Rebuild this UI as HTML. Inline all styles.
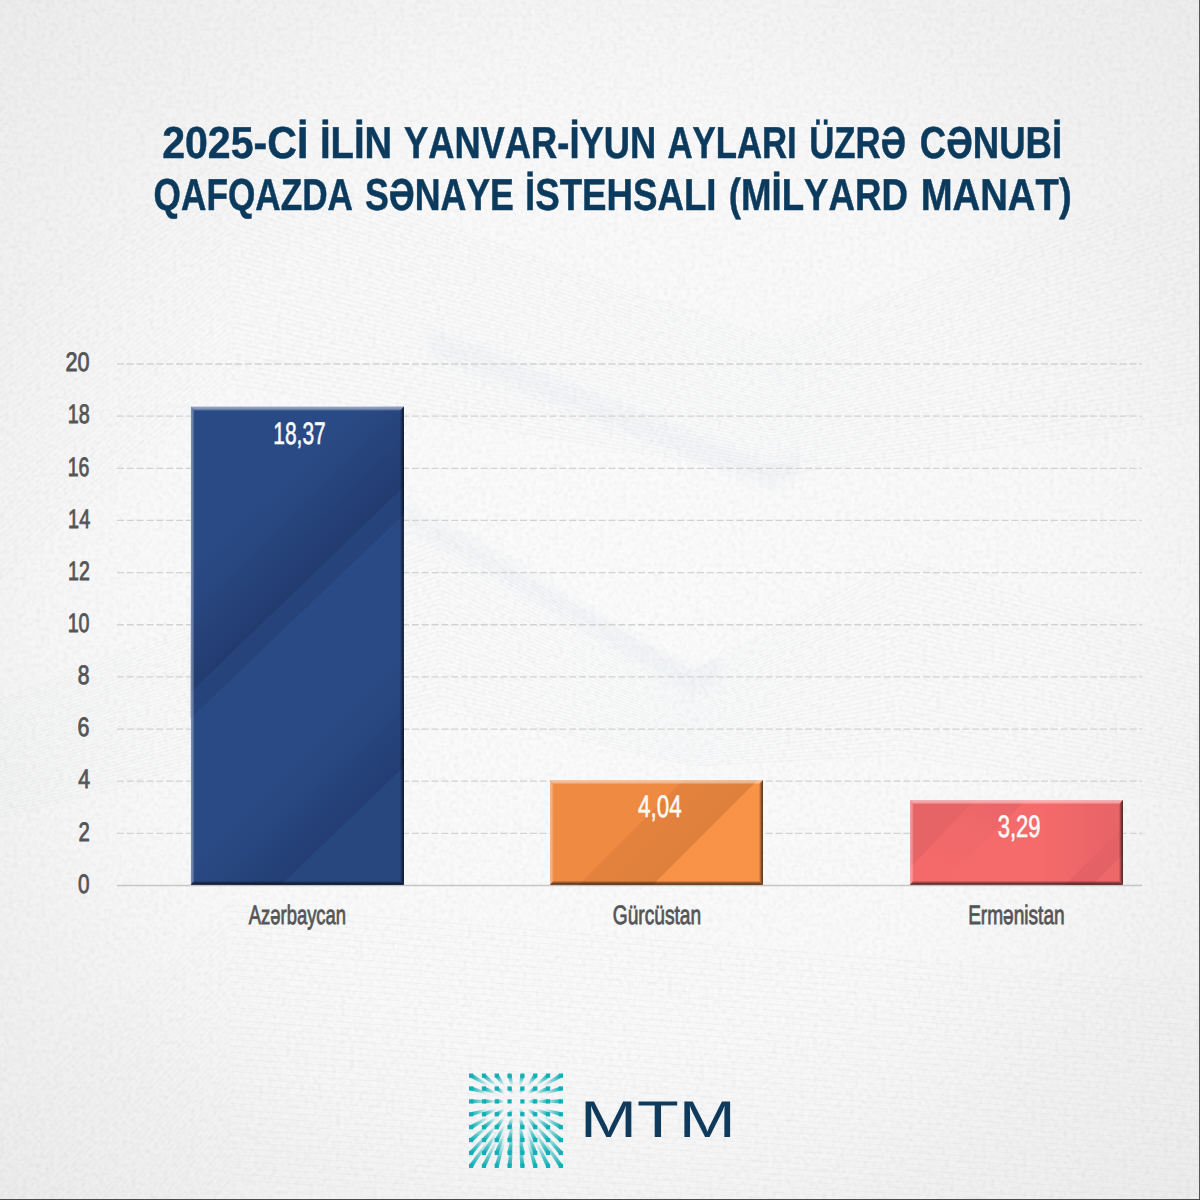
<!DOCTYPE html>
<html lang="az"><head><meta charset="utf-8"><title>Cənubi Qafqazda sənaye istehsalı</title>
<style>
html,body{margin:0;padding:0;background:#f2f2f2;}
body{width:1200px;height:1200px;overflow:hidden;}
svg{display:block;}
text{font-family:"Liberation Sans",sans-serif;text-rendering:geometricPrecision;font-kerning:none;}
.ttl{font-weight:700;font-size:44.8px;fill:#0c3a5d;stroke:#0c3a5d;stroke-width:0.5px;}
.ax{font-size:26.7px;fill:#555555;stroke:#555555;stroke-width:0.85px;}
.cat{font-size:26.6px;fill:#555555;stroke:#555555;stroke-width:0.8px;}
.val{font-size:31px;fill:#fbfbfb;stroke:#fbfbfb;stroke-width:0.6px;}
.mtm{font-size:51.6px;fill:#0f3a5c;}
</style></head><body>
<svg width="1200" height="1200" viewBox="0 0 1200 1200">
<defs>
<radialGradient id="bg" cx="50%" cy="50%" r="75%">
<stop offset="0" stop-color="#fbfbfb"/><stop offset="0.5" stop-color="#f9f9f9"/><stop offset="0.62" stop-color="#f6f6f6"/><stop offset="0.72" stop-color="#f2f2f2"/><stop offset="0.95" stop-color="#ececec"/>
</radialGradient>
<filter id="soft" x="-5%" y="-20%" width="110%" height="140%"><feGaussianBlur stdDeviation="3.5"/></filter>
<filter id="paper" x="0" y="0" width="100%" height="100%">
<feTurbulence type="fractalNoise" baseFrequency="0.22" numOctaves="2" seed="7" result="n"/>
<feColorMatrix in="n" type="matrix" values="0 0 0 0 0  0 0 0 0 0  0 0 0 0 0  0.25 0.25 0 0 -0.2"/>
</filter>
<linearGradient id="tail" x1="0" y1="0" x2="1" y2="0">
<stop offset="0" stop-color="#12b0b6" stop-opacity="1"/><stop offset="0.28" stop-color="#12b0b6" stop-opacity="0.72"/><stop offset="0.8" stop-color="#12b0b6" stop-opacity="0.1"/><stop offset="1" stop-color="#12b0b6" stop-opacity="0"/>
</linearGradient>
<linearGradient id="gT" x1="0" y1="0" x2="0" y2="1"><stop offset="0" stop-color="#fff" stop-opacity="0.52"/><stop offset="0.55" stop-color="#fff" stop-opacity="0.4"/><stop offset="1" stop-color="#fff" stop-opacity="0"/></linearGradient>
<linearGradient id="gL" x1="0" y1="0" x2="1" y2="0"><stop offset="0" stop-color="#fff" stop-opacity="0.38"/><stop offset="0.55" stop-color="#fff" stop-opacity="0.28"/><stop offset="1" stop-color="#fff" stop-opacity="0"/></linearGradient>
<linearGradient id="gR" x1="1" y1="0" x2="0" y2="0"><stop offset="0" stop-color="#000" stop-opacity="0.72"/><stop offset="0.45" stop-color="#000" stop-opacity="0.4"/><stop offset="1" stop-color="#000" stop-opacity="0"/></linearGradient>
<linearGradient id="gB" x1="0" y1="1" x2="0" y2="0"><stop offset="0" stop-color="#000" stop-opacity="0.78"/><stop offset="0.45" stop-color="#000" stop-opacity="0.42"/><stop offset="1" stop-color="#000" stop-opacity="0"/></linearGradient>
<clipPath id="c1"><rect x="190.8" y="406.5" width="213.1" height="478.3"/></clipPath>
<clipPath id="c2"><rect x="550" y="780" width="212.9" height="104.8"/></clipPath>
<clipPath id="c3"><rect x="910" y="800" width="212.9" height="84.8"/></clipPath>
</defs>
<rect width="1200" height="1200" fill="url(#bg)"/>
<g id="waves" fill="none" stroke="#cfd8e1" stroke-width="0.55" opacity="0.36">
<path d="M0 300.0L230 150.0L773 340.0L1200 170.0"/>
<path d="M0 306.2L230 155.2L773 343.0L1200 175.6"/>
<path d="M0 312.4L230 160.4L773 346.0L1200 181.2"/>
<path d="M0 318.6L230 165.6L773 349.0L1200 186.8"/>
<path d="M0 324.8L230 170.8L773 352.0L1200 192.4"/>
<path d="M0 331.0L230 176.0L773 355.0L1200 198.0"/>
<path d="M0 337.2L230 181.2L773 358.0L1200 203.6"/>
<path d="M0 343.4L230 186.4L773 361.0L1200 209.2"/>
<path d="M0 349.6L230 191.6L773 364.0L1200 214.8"/>
<path d="M0 355.8L230 196.8L773 367.0L1200 220.4"/>
<path d="M0 362.0L230 202.0L773 370.0L1200 226.0"/>
<path d="M0 368.2L230 207.2L773 373.0L1200 231.6"/>
<path d="M0 374.4L230 212.4L773 376.0L1200 237.2"/>
<path d="M0 380.6L230 217.6L773 379.0L1200 242.8"/>
<path d="M0 386.8L230 222.8L773 382.0L1200 248.4"/>
<path d="M0 393.0L230 228.0L773 385.0L1200 254.0"/>
<path d="M0 399.2L230 233.2L773 388.0L1200 259.6"/>
<path d="M0 405.4L230 238.4L773 391.0L1200 265.2"/>
<path d="M0 411.6L230 243.6L773 394.0L1200 270.8"/>
<path d="M0 417.8L230 248.8L773 397.0L1200 276.4"/>
<path d="M0 424.0L230 254.0L773 400.0L1200 282.0"/>
<path d="M0 430.2L230 259.2L773 403.0L1200 287.6"/>
<path d="M0 436.4L230 264.4L773 406.0L1200 293.2"/>
<path d="M0 442.6L230 269.6L773 409.0L1200 298.8"/>
<path d="M0 448.8L230 274.8L773 412.0L1200 304.4"/>
<path d="M0 455.0L230 280.0L773 415.0L1200 310.0"/>
<path d="M0 461.2L230 285.2L773 418.0L1200 315.6"/>
<path d="M0 467.4L230 290.4L773 421.0L1200 321.2"/>
<path d="M0 473.6L230 295.6L773 424.0L1200 326.8"/>
<path d="M0 479.8L230 300.8L773 427.0L1200 332.4"/>
<path d="M0 486.0L230 306.0L773 430.0L1200 338.0"/>
<path d="M0 492.2L230 311.2L773 433.0L1200 343.6"/>
<path d="M0 498.4L230 316.4L773 436.0L1200 349.2"/>
<path d="M0 504.6L230 321.6L773 439.0L1200 354.8"/>
<path d="M0 510.8L230 326.8L773 442.0L1200 360.4"/>
<path d="M0 517.0L230 332.0L773 445.0L1200 366.0"/>
<path d="M0 523.2L230 337.2L773 448.0L1200 371.6"/>
<path d="M0 529.4L230 342.4L773 451.0L1200 377.2"/>
<path d="M0 535.6L230 347.6L773 454.0L1200 382.8"/>
<path d="M0 541.8L230 352.8L773 457.0L1200 388.4"/>
<path d="M0 548.0L230 358.0L773 460.0L1200 394.0"/>
<path d="M0 554.2L230 363.2L773 463.0L1200 399.6"/>
<path d="M0 560.4L230 368.4L773 466.0L1200 405.2"/>
<path d="M0 566.6L230 373.6L773 469.0L1200 410.8"/>
<path d="M0 572.8L230 378.8L773 472.0L1200 416.4"/>
<path d="M0 579.0L230 384.0L773 475.0L1200 422.0"/>
<path d="M0 700.0L440 530.0L693 672.0L900 560.0L1200 640.0"/>
<path d="M0 703.0L440 534.6L693 674.4L900 565.0L1200 644.2"/>
<path d="M0 706.0L440 539.2L693 676.8L900 570.0L1200 648.4"/>
<path d="M0 709.0L440 543.8L693 679.2L900 575.0L1200 652.6"/>
<path d="M0 712.0L440 548.4L693 681.6L900 580.0L1200 656.8"/>
<path d="M0 715.0L440 553.0L693 684.0L900 585.0L1200 661.0"/>
<path d="M0 718.0L440 557.6L693 686.4L900 590.0L1200 665.2"/>
<path d="M0 721.0L440 562.2L693 688.8L900 595.0L1200 669.4"/>
<path d="M0 724.0L440 566.8L693 691.2L900 600.0L1200 673.6"/>
<path d="M0 727.0L440 571.4L693 693.6L900 605.0L1200 677.8"/>
<path d="M0 730.0L440 576.0L693 696.0L900 610.0L1200 682.0"/>
<path d="M0 733.0L440 580.6L693 698.4L900 615.0L1200 686.2"/>
<path d="M0 736.0L440 585.2L693 700.8L900 620.0L1200 690.4"/>
<path d="M0 739.0L440 589.8L693 703.2L900 625.0L1200 694.6"/>
<path d="M0 742.0L440 594.4L693 705.6L900 630.0L1200 698.8"/>
<path d="M0 745.0L440 599.0L693 708.0L900 635.0L1200 703.0"/>
<path d="M0 748.0L440 603.6L693 710.4L900 640.0L1200 707.2"/>
<path d="M0 751.0L440 608.2L693 712.8L900 645.0L1200 711.4"/>
<path d="M0 754.0L440 612.8L693 715.2L900 650.0L1200 715.6"/>
<path d="M0 757.0L440 617.4L693 717.6L900 655.0L1200 719.8"/>
<path d="M0 760.0L440 622.0L693 720.0L900 660.0L1200 724.0"/>
<path d="M0 763.0L440 626.6L693 722.4L900 665.0L1200 728.2"/>
<path d="M0 766.0L440 631.2L693 724.8L900 670.0L1200 732.4"/>
<path d="M0 769.0L440 635.8L693 727.2L900 675.0L1200 736.6"/>
<path d="M0 772.0L440 640.4L693 729.6L900 680.0L1200 740.8"/>
<path d="M0 775.0L440 645.0L693 732.0L900 685.0L1200 745.0"/>
<path d="M0 778.0L440 649.6L693 734.4L900 690.0L1200 749.2"/>
<path d="M0 781.0L440 654.2L693 736.8L900 695.0L1200 753.4"/>
<path d="M0 784.0L440 658.8L693 739.2L900 700.0L1200 757.6"/>
<path d="M0 787.0L440 663.4L693 741.6L900 705.0L1200 761.8"/>
<path d="M0 790.0L440 668.0L693 744.0L900 710.0L1200 766.0"/>
<path d="M0 793.0L440 672.6L693 746.4L900 715.0L1200 770.2"/>
<path d="M0 796.0L440 677.2L693 748.8L900 720.0L1200 774.4"/>
<path d="M0 799.0L440 681.8L693 751.2L900 725.0L1200 778.6"/>
<path d="M0 802.0L440 686.4L693 753.6L900 730.0L1200 782.8"/>
<path d="M0 805.0L440 691.0L693 756.0L900 735.0L1200 787.0"/>
<path d="M0 808.0L440 695.6L693 758.4L900 740.0L1200 791.2"/>
<path d="M0 811.0L440 700.2L693 760.8L900 745.0L1200 795.4"/>
<path d="M0 814.0L440 704.8L693 763.2L900 750.0L1200 799.6"/>
<path d="M0 817.0L440 709.4L693 765.6L900 755.0L1200 803.8"/>
<path d="M0 1120.0L230 905.0L1200 985.0"/>
<path d="M0 1127.5L230 911.4L1200 990.8"/>
<path d="M0 1135.0L230 917.8L1200 996.6"/>
<path d="M0 1142.5L230 924.2L1200 1002.4"/>
<path d="M0 1150.0L230 930.6L1200 1008.2"/>
<path d="M0 1157.5L230 937.0L1200 1014.0"/>
<path d="M0 1165.0L230 943.4L1200 1019.8"/>
<path d="M0 1172.5L230 949.8L1200 1025.6"/>
<path d="M0 1180.0L230 956.2L1200 1031.4"/>
<path d="M0 1187.5L230 962.6L1200 1037.2"/>
<path d="M0 1195.0L230 969.0L1200 1043.0"/>
<path d="M0 1202.5L230 975.4L1200 1048.8"/>
<path d="M0 1210.0L230 981.8L1200 1054.6"/>
<path d="M0 1217.5L230 988.2L1200 1060.4"/>
<path d="M0 1225.0L230 994.6L1200 1066.2"/>
<path d="M0 1232.5L230 1001.0L1200 1072.0"/>
<path d="M0 1240.0L230 1007.4L1200 1077.8"/>
<path d="M0 1247.5L230 1013.8L1200 1083.6"/>
<path d="M0 1255.0L230 1020.2L1200 1089.4"/>
<path d="M0 1262.5L230 1026.6L1200 1095.2"/>
<path d="M0 1270.0L230 1033.0L1200 1101.0"/>
<path d="M0 1277.5L230 1039.4L1200 1106.8"/>
<path d="M0 1285.0L230 1045.8L1200 1112.6"/>
<path d="M0 1292.5L230 1052.2L1200 1118.4"/>
<path d="M0 1300.0L230 1058.6L1200 1124.2"/>
<path d="M0 1307.5L230 1065.0L1200 1130.0"/>
<path d="M0 1315.0L230 1071.4L1200 1135.8"/>
<path d="M0 1322.5L230 1077.8L1200 1141.6"/>
<path d="M0 1330.0L230 1084.2L1200 1147.4"/>
<path d="M0 1337.5L230 1090.6L1200 1153.2"/>
<path d="M0 1345.0L230 1097.0L1200 1159.0"/>
<path d="M0 1352.5L230 1103.4L1200 1164.8"/>
<path d="M0 1360.0L230 1109.8L1200 1170.6"/>
<path d="M0 1367.5L230 1116.2L1200 1176.4"/>
<path d="M0 1375.0L230 1122.6L1200 1182.2"/>
<path d="M0 1382.5L230 1129.0L1200 1188.0"/>
<path d="M0 1390.0L230 1135.4L1200 1193.8"/>
<path d="M0 1397.5L230 1141.8L1200 1199.6"/>
<path d="M0 1405.0L230 1148.2L1200 1205.4"/>
<path d="M0 1412.5L230 1154.6L1200 1211.2"/>
<path d="M0 1420.0L230 1161.0L1200 1217.0"/>
<path d="M0 1427.5L230 1167.4L1200 1222.8"/>
<path d="M0 1435.0L230 1173.8L1200 1228.6"/>
<path d="M0 1442.5L230 1180.2L1200 1234.4"/>
</g>
<g fill="#d3deea" opacity="0.14" filter="url(#soft)"><path d="M430 328L487 350L773 465L800 452L800 478L773 491L487 378L430 356Z"/><path d="M400 500L467 533L693 668L720 658L720 684L693 695L467 562L400 528Z"/></g>
<rect width="1200" height="1200" filter="url(#paper)" opacity="0.2"/>
<g stroke="#d2d2d2" stroke-width="1.3" stroke-dasharray="7 2.83" fill="none">
<path d="M117 833.35H1142"/>
<path d="M117 781.20H1142"/>
<path d="M117 729.05H1142"/>
<path d="M117 676.90H1142"/>
<path d="M117 624.75H1142"/>
<path d="M117 572.60H1142"/>
<path d="M117 520.45H1142"/>
<path d="M117 468.30H1142"/>
<path d="M117 416.15H1142"/>
<path d="M117 364.00H1142"/>
</g>
<path d="M117 885.50H1142" stroke="#c6c6c6" stroke-width="1.3" fill="none"/>
<g class="ax">
<text x="77.89" y="892.7" textLength="11.52" lengthAdjust="spacingAndGlyphs">0</text>
<text x="78.38" y="840.6" textLength="11.23" lengthAdjust="spacingAndGlyphs">2</text>
<text x="78.21" y="788.4" textLength="11.81" lengthAdjust="spacingAndGlyphs">4</text>
<text x="77.61" y="736.2" textLength="11.93" lengthAdjust="spacingAndGlyphs">6</text>
<text x="77.78" y="684.1" textLength="11.73" lengthAdjust="spacingAndGlyphs">8</text>
<text x="67.70" y="632.0" textLength="21.87" lengthAdjust="spacingAndGlyphs">10</text>
<text x="68.12" y="579.8" textLength="21.66" lengthAdjust="spacingAndGlyphs">12</text>
<text x="68.09" y="527.7" textLength="22.10" lengthAdjust="spacingAndGlyphs">14</text>
<text x="67.72" y="475.5" textLength="21.64" lengthAdjust="spacingAndGlyphs">16</text>
<text x="67.70" y="423.4" textLength="21.96" lengthAdjust="spacingAndGlyphs">18</text>
<text x="65.61" y="371.2" textLength="24.03" lengthAdjust="spacingAndGlyphs">20</text>
</g>
<g clip-path="url(#c1)">
<rect x="190.8" y="406.5" width="213.1" height="478.3" fill="#2a4a85"/>
<linearGradient id="b1a" gradientUnits="userSpaceOnUse" x1="300" y1="587" x2="240" y2="525"><stop offset="0" stop-color="#223c70"/><stop offset="1" stop-color="#223c70" stop-opacity="0"/></linearGradient>
<path d="M190.0 693.3L404.0 486.6L404.0 380.0L190.0 540.0Z" fill="url(#b1a)"/>
<path d="M190.0 693.3L404.0 486.6L404.0 514.0L190.0 718.8Z" fill="#26437b"/>
<linearGradient id="b1b" gradientUnits="userSpaceOnUse" x1="345" y1="824" x2="290" y2="768"><stop offset="0" stop-color="#233e74"/><stop offset="1" stop-color="#233e74" stop-opacity="0"/></linearGradient>
<path d="M280.0 886.0L404.0 766.8L404.0 640.0L190.0 850.0L190.0 886.0Z" fill="url(#b1b)"/>
<path d="M280.0 886.0L404.0 766.8L404.0 886.0Z" fill="#28477f"/>
</g>
<path d="M190.8 406.5H403.9L399.9 411.0H194.60000000000002Z" fill="url(#gT)"/>
<path d="M190.8 406.5L194.60000000000002 411.0V880.5999999999999L190.8 884.8Z" fill="url(#gL)"/>
<path d="M403.9 406.5L399.9 411.0V880.5999999999999L403.9 884.8Z" fill="url(#gR)"/>
<path d="M190.8 884.8L194.60000000000002 880.5999999999999H399.9L403.9 884.8Z" fill="url(#gB)"/>
<g clip-path="url(#c2)">
<rect x="550.0" y="780.0" width="212.9" height="104.8" fill="#ee8a42"/>
<linearGradient id="b2a" gradientUnits="userSpaceOnUse" x1="700" y1="835" x2="640" y2="775"><stop offset="0" stop-color="#df803c"/><stop offset="1" stop-color="#e6843f"/></linearGradient>
<path d="M578.5 885.0L683.5 780.0L758.0 780.0L653.0 885.0Z" fill="url(#b2a)"/>
<path d="M653.0 885.0L758.0 780.0L764.0 780.0L764.0 885.0Z" fill="#f99348"/>
</g>
<path d="M550.0 780.0H762.9L758.9 784.5H553.8Z" fill="url(#gT)"/>
<path d="M550.0 780.0L553.8 784.5V880.5999999999999L550.0 884.8Z" fill="url(#gL)"/>
<path d="M762.9 780.0L758.9 784.5V880.5999999999999L762.9 884.8Z" fill="url(#gR)"/>
<path d="M550.0 884.8L553.8 880.5999999999999H758.9L762.9 884.8Z" fill="url(#gB)"/>
<g clip-path="url(#c3)">
<rect x="910.0" y="800.0" width="212.9" height="84.8" fill="#f56a6b"/>
<path d="M910.0 799.0L975.5 799.0L910.0 868.0Z" fill="#e66366"/>
<linearGradient id="b3a" gradientUnits="userSpaceOnUse" x1="1000" y1="800" x2="960" y2="880"><stop offset="0" stop-color="#e96568"/><stop offset="1" stop-color="#f26a6b" stop-opacity="0.2"/></linearGradient>
<path d="M975.5 799.0L1027.0 799.0L940.0 886.0L910.0 886.0L910.0 868.0Z" fill="url(#b3a)"/>
<linearGradient id="b3b" gradientUnits="userSpaceOnUse" x1="1040" y1="840" x2="1110" y2="840"><stop offset="0" stop-color="#e86467" stop-opacity="0"/><stop offset="1" stop-color="#e86467"/></linearGradient>
<path d="M1030.0 799.0L1124.0 799.0L1124.0 826.0L1064.0 886.0L1000.0 886.0Z" fill="url(#b3b)"/>
<path d="M1124.0 826.0L1064.0 886.0L1092.0 886.0L1124.0 853.0Z" fill="#e46165"/>
<path d="M1124.0 853.0L1092.0 886.0L1124.0 886.0Z" fill="#ee686a"/>
</g>
<path d="M910.0 800.0H1122.9L1118.9 804.5H913.8Z" fill="url(#gT)"/>
<path d="M910.0 800.0L913.8 804.5V880.5999999999999L910.0 884.8Z" fill="url(#gL)"/>
<path d="M1122.9 800.0L1118.9 804.5V880.5999999999999L1122.9 884.8Z" fill="url(#gR)"/>
<path d="M910.0 884.8L913.8 880.5999999999999H1118.9L1122.9 884.8Z" fill="url(#gB)"/>
<g class="val">
<text x="273.30" y="444.2" textLength="52.45" lengthAdjust="spacingAndGlyphs">18,37</text>
<text x="638.09" y="817.2" textLength="43.57" lengthAdjust="spacingAndGlyphs">4,04</text>
<text x="997.66" y="837.4" textLength="42.88" lengthAdjust="spacingAndGlyphs">3,29</text>
</g>
<g class="cat">
<text x="248.76" y="924.0" textLength="97.33" lengthAdjust="spacingAndGlyphs">Azərbaycan</text>
<text x="612.74" y="924.0" textLength="88.41" lengthAdjust="spacingAndGlyphs">Gürcüstan</text>
<text x="968.13" y="924.0" textLength="96.50" lengthAdjust="spacingAndGlyphs">Ermənistan</text>
</g>
<g class="ttl" opacity="0.999">
<text y="158.0"><tspan x="162.13" textLength="146.17" lengthAdjust="spacingAndGlyphs">2025-Cİ</tspan> <tspan x="319.99" textLength="72.24" lengthAdjust="spacingAndGlyphs">İLİN</tspan> <tspan x="403.93" textLength="252.27" lengthAdjust="spacingAndGlyphs">YANVAR-İYUN</tspan> <tspan x="667.38" textLength="129.39" lengthAdjust="spacingAndGlyphs">AYLARI</tspan> <tspan x="809.16" textLength="96.82" lengthAdjust="spacingAndGlyphs">ÜZRƏ</tspan> <tspan x="919.75" textLength="142.45" lengthAdjust="spacingAndGlyphs">CƏNUBİ</tspan></text>
<text y="210.0"><tspan x="153.61" textLength="199.37" lengthAdjust="spacingAndGlyphs">QAFQAZDA</tspan> <tspan x="364.92" textLength="149.02" lengthAdjust="spacingAndGlyphs">SƏNAYE</tspan> <tspan x="525.00" textLength="191.51" lengthAdjust="spacingAndGlyphs">İSTEHSALI</tspan> <tspan x="728.72" textLength="179.27" lengthAdjust="spacingAndGlyphs">(MİLYARD</tspan> <tspan x="920.69" textLength="150.97" lengthAdjust="spacingAndGlyphs">MANAT)</tspan></text>
</g>
<g id="logo">
<path transform="translate(471.10 1075.60) rotate(29.9) scale(21.75 1)" d="M0 -2.15L1 -0.95L1 0.95L0 2.15Z" fill="url(#tail)"/>
<rect x="469.00" y="1073.50" width="4.2" height="4.2" fill="#12b0b6"/>
<path transform="translate(483.93 1075.60) rotate(38.8) scale(17.29 1)" d="M0 -2.15L1 -0.95L1 0.95L0 2.15Z" fill="url(#tail)"/>
<rect x="481.83" y="1073.50" width="4.2" height="4.2" fill="#12b0b6"/>
<path transform="translate(496.76 1075.60) rotate(53.3) scale(13.52 1)" d="M0 -2.15L1 -0.95L1 0.95L0 2.15Z" fill="url(#tail)"/>
<rect x="494.66" y="1073.50" width="4.2" height="4.2" fill="#12b0b6"/>
<path transform="translate(509.59 1075.60) rotate(76.0) scale(11.17 1)" d="M0 -2.15L1 -0.95L1 0.95L0 2.15Z" fill="url(#tail)"/>
<rect x="507.49" y="1073.50" width="4.2" height="4.2" fill="#12b0b6"/>
<path transform="translate(522.42 1075.60) rotate(104.0) scale(11.17 1)" d="M0 -2.15L1 -0.95L1 0.95L0 2.15Z" fill="url(#tail)"/>
<rect x="520.32" y="1073.50" width="4.2" height="4.2" fill="#12b0b6"/>
<path transform="translate(535.25 1075.60) rotate(126.7) scale(13.52 1)" d="M0 -2.15L1 -0.95L1 0.95L0 2.15Z" fill="url(#tail)"/>
<rect x="533.15" y="1073.50" width="4.2" height="4.2" fill="#12b0b6"/>
<path transform="translate(548.08 1075.60) rotate(141.2) scale(17.29 1)" d="M0 -2.15L1 -0.95L1 0.95L0 2.15Z" fill="url(#tail)"/>
<rect x="545.98" y="1073.50" width="4.2" height="4.2" fill="#12b0b6"/>
<path transform="translate(560.91 1075.60) rotate(150.1) scale(21.75 1)" d="M0 -2.15L1 -0.95L1 0.95L0 2.15Z" fill="url(#tail)"/>
<rect x="558.81" y="1073.50" width="4.2" height="4.2" fill="#12b0b6"/>
<path transform="translate(471.10 1088.50) rotate(16.0) scale(19.62 1)" d="M0 -2.15L1 -0.95L1 0.95L0 2.15Z" fill="url(#tail)"/>
<rect x="469.00" y="1086.40" width="4.2" height="4.2" fill="#12b0b6"/>
<path transform="translate(483.93 1088.50) rotate(21.9) scale(14.52 1)" d="M0 -2.15L1 -0.95L1 0.95L0 2.15Z" fill="url(#tail)"/>
<rect x="481.83" y="1086.40" width="4.2" height="4.2" fill="#12b0b6"/>
<path transform="translate(496.76 1088.50) rotate(33.8) scale(9.73 1)" d="M0 -2.15L1 -0.95L1 0.95L0 2.15Z" fill="url(#tail)"/>
<rect x="494.66" y="1086.40" width="4.2" height="4.2" fill="#12b0b6"/>
<path transform="translate(509.59 1088.50) rotate(63.6) scale(6.05 1)" d="M0 -2.15L1 -0.95L1 0.95L0 2.15Z" fill="url(#tail)"/>
<rect x="507.49" y="1086.40" width="4.2" height="4.2" fill="#12b0b6"/>
<path transform="translate(522.42 1088.50) rotate(116.4) scale(6.05 1)" d="M0 -2.15L1 -0.95L1 0.95L0 2.15Z" fill="url(#tail)"/>
<rect x="520.32" y="1086.40" width="4.2" height="4.2" fill="#12b0b6"/>
<path transform="translate(535.25 1088.50) rotate(146.2) scale(9.73 1)" d="M0 -2.15L1 -0.95L1 0.95L0 2.15Z" fill="url(#tail)"/>
<rect x="533.15" y="1086.40" width="4.2" height="4.2" fill="#12b0b6"/>
<path transform="translate(548.08 1088.50) rotate(158.1) scale(14.52 1)" d="M0 -2.15L1 -0.95L1 0.95L0 2.15Z" fill="url(#tail)"/>
<rect x="545.98" y="1086.40" width="4.2" height="4.2" fill="#12b0b6"/>
<path transform="translate(560.91 1088.50) rotate(164.0) scale(19.62 1)" d="M0 -2.15L1 -0.95L1 0.95L0 2.15Z" fill="url(#tail)"/>
<rect x="558.81" y="1086.40" width="4.2" height="4.2" fill="#12b0b6"/>
<path transform="translate(471.10 1101.40) rotate(0.0) scale(18.86 1)" d="M0 -2.15L1 -0.95L1 0.95L0 2.15Z" fill="url(#tail)"/>
<rect x="469.00" y="1099.30" width="4.2" height="4.2" fill="#12b0b6"/>
<path transform="translate(483.93 1101.40) rotate(0.0) scale(13.47 1)" d="M0 -2.15L1 -0.95L1 0.95L0 2.15Z" fill="url(#tail)"/>
<rect x="481.83" y="1099.30" width="4.2" height="4.2" fill="#12b0b6"/>
<path transform="translate(496.76 1101.40) rotate(0.0) scale(8.08 1)" d="M0 -2.15L1 -0.95L1 0.95L0 2.15Z" fill="url(#tail)"/>
<rect x="494.66" y="1099.30" width="4.2" height="4.2" fill="#12b0b6"/>
<rect x="507.49" y="1099.30" width="4.2" height="4.2" fill="#12b0b6"/>
<rect x="520.32" y="1099.30" width="4.2" height="4.2" fill="#12b0b6"/>
<path transform="translate(535.25 1101.40) rotate(180.0) scale(8.08 1)" d="M0 -2.15L1 -0.95L1 0.95L0 2.15Z" fill="url(#tail)"/>
<rect x="533.15" y="1099.30" width="4.2" height="4.2" fill="#12b0b6"/>
<path transform="translate(548.08 1101.40) rotate(180.0) scale(13.47 1)" d="M0 -2.15L1 -0.95L1 0.95L0 2.15Z" fill="url(#tail)"/>
<rect x="545.98" y="1099.30" width="4.2" height="4.2" fill="#12b0b6"/>
<path transform="translate(560.91 1101.40) rotate(180.0) scale(18.86 1)" d="M0 -2.15L1 -0.95L1 0.95L0 2.15Z" fill="url(#tail)"/>
<rect x="558.81" y="1099.30" width="4.2" height="4.2" fill="#12b0b6"/>
<path transform="translate(471.10 1114.30) rotate(-16.0) scale(19.62 1)" d="M0 -2.15L1 -0.95L1 0.95L0 2.15Z" fill="url(#tail)"/>
<rect x="469.00" y="1112.20" width="4.2" height="4.2" fill="#12b0b6"/>
<path transform="translate(483.93 1114.30) rotate(-21.9) scale(14.52 1)" d="M0 -2.15L1 -0.95L1 0.95L0 2.15Z" fill="url(#tail)"/>
<rect x="481.83" y="1112.20" width="4.2" height="4.2" fill="#12b0b6"/>
<path transform="translate(496.76 1114.30) rotate(-33.8) scale(9.73 1)" d="M0 -2.15L1 -0.95L1 0.95L0 2.15Z" fill="url(#tail)"/>
<rect x="494.66" y="1112.20" width="4.2" height="4.2" fill="#12b0b6"/>
<path transform="translate(509.59 1114.30) rotate(-63.6) scale(6.05 1)" d="M0 -2.15L1 -0.95L1 0.95L0 2.15Z" fill="url(#tail)"/>
<rect x="507.49" y="1112.20" width="4.2" height="4.2" fill="#12b0b6"/>
<path transform="translate(522.42 1114.30) rotate(-116.4) scale(6.05 1)" d="M0 -2.15L1 -0.95L1 0.95L0 2.15Z" fill="url(#tail)"/>
<rect x="520.32" y="1112.20" width="4.2" height="4.2" fill="#12b0b6"/>
<path transform="translate(535.25 1114.30) rotate(-146.2) scale(9.73 1)" d="M0 -2.15L1 -0.95L1 0.95L0 2.15Z" fill="url(#tail)"/>
<rect x="533.15" y="1112.20" width="4.2" height="4.2" fill="#12b0b6"/>
<path transform="translate(548.08 1114.30) rotate(-158.1) scale(14.52 1)" d="M0 -2.15L1 -0.95L1 0.95L0 2.15Z" fill="url(#tail)"/>
<rect x="545.98" y="1112.20" width="4.2" height="4.2" fill="#12b0b6"/>
<path transform="translate(560.91 1114.30) rotate(-164.0) scale(19.62 1)" d="M0 -2.15L1 -0.95L1 0.95L0 2.15Z" fill="url(#tail)"/>
<rect x="558.81" y="1112.20" width="4.2" height="4.2" fill="#12b0b6"/>
<path transform="translate(471.10 1127.20) rotate(-29.9) scale(21.75 1)" d="M0 -2.15L1 -0.95L1 0.95L0 2.15Z" fill="url(#tail)"/>
<rect x="469.00" y="1125.10" width="4.2" height="4.2" fill="#12b0b6"/>
<path transform="translate(483.93 1127.20) rotate(-38.8) scale(17.29 1)" d="M0 -2.15L1 -0.95L1 0.95L0 2.15Z" fill="url(#tail)"/>
<rect x="481.83" y="1125.10" width="4.2" height="4.2" fill="#12b0b6"/>
<path transform="translate(496.76 1127.20) rotate(-53.3) scale(13.52 1)" d="M0 -2.15L1 -0.95L1 0.95L0 2.15Z" fill="url(#tail)"/>
<rect x="494.66" y="1125.10" width="4.2" height="4.2" fill="#12b0b6"/>
<path transform="translate(509.59 1127.20) rotate(-76.0) scale(11.17 1)" d="M0 -2.15L1 -0.95L1 0.95L0 2.15Z" fill="url(#tail)"/>
<rect x="507.49" y="1125.10" width="4.2" height="4.2" fill="#12b0b6"/>
<path transform="translate(522.42 1127.20) rotate(-104.0) scale(11.17 1)" d="M0 -2.15L1 -0.95L1 0.95L0 2.15Z" fill="url(#tail)"/>
<rect x="520.32" y="1125.10" width="4.2" height="4.2" fill="#12b0b6"/>
<path transform="translate(535.25 1127.20) rotate(-126.7) scale(13.52 1)" d="M0 -2.15L1 -0.95L1 0.95L0 2.15Z" fill="url(#tail)"/>
<rect x="533.15" y="1125.10" width="4.2" height="4.2" fill="#12b0b6"/>
<path transform="translate(548.08 1127.20) rotate(-141.2) scale(17.29 1)" d="M0 -2.15L1 -0.95L1 0.95L0 2.15Z" fill="url(#tail)"/>
<rect x="545.98" y="1125.10" width="4.2" height="4.2" fill="#12b0b6"/>
<path transform="translate(560.91 1127.20) rotate(-150.1) scale(21.75 1)" d="M0 -2.15L1 -0.95L1 0.95L0 2.15Z" fill="url(#tail)"/>
<rect x="558.81" y="1125.10" width="4.2" height="4.2" fill="#12b0b6"/>
<path transform="translate(471.10 1140.10) rotate(-40.8) scale(24.90 1)" d="M0 -2.15L1 -0.95L1 0.95L0 2.15Z" fill="url(#tail)"/>
<rect x="469.00" y="1138.00" width="4.2" height="4.2" fill="#12b0b6"/>
<path transform="translate(483.93 1140.10) rotate(-50.3) scale(21.11 1)" d="M0 -2.15L1 -0.95L1 0.95L0 2.15Z" fill="url(#tail)"/>
<rect x="481.83" y="1138.00" width="4.2" height="4.2" fill="#12b0b6"/>
<path transform="translate(496.76 1140.10) rotate(-63.6) scale(18.15 1)" d="M0 -2.15L1 -0.95L1 0.95L0 2.15Z" fill="url(#tail)"/>
<rect x="494.66" y="1138.00" width="4.2" height="4.2" fill="#12b0b6"/>
<path transform="translate(509.59 1140.10) rotate(-80.6) scale(16.48 1)" d="M0 -2.15L1 -0.95L1 0.95L0 2.15Z" fill="url(#tail)"/>
<rect x="507.49" y="1138.00" width="4.2" height="4.2" fill="#12b0b6"/>
<path transform="translate(522.42 1140.10) rotate(-99.4) scale(16.48 1)" d="M0 -2.15L1 -0.95L1 0.95L0 2.15Z" fill="url(#tail)"/>
<rect x="520.32" y="1138.00" width="4.2" height="4.2" fill="#12b0b6"/>
<path transform="translate(535.25 1140.10) rotate(-116.4) scale(18.15 1)" d="M0 -2.15L1 -0.95L1 0.95L0 2.15Z" fill="url(#tail)"/>
<rect x="533.15" y="1138.00" width="4.2" height="4.2" fill="#12b0b6"/>
<path transform="translate(548.08 1140.10) rotate(-129.7) scale(21.11 1)" d="M0 -2.15L1 -0.95L1 0.95L0 2.15Z" fill="url(#tail)"/>
<rect x="545.98" y="1138.00" width="4.2" height="4.2" fill="#12b0b6"/>
<path transform="translate(560.91 1140.10) rotate(-139.2) scale(24.90 1)" d="M0 -2.15L1 -0.95L1 0.95L0 2.15Z" fill="url(#tail)"/>
<rect x="558.81" y="1138.00" width="4.2" height="4.2" fill="#12b0b6"/>
<path transform="translate(471.10 1153.00) rotate(-49.0) scale(28.73 1)" d="M0 -2.15L1 -0.95L1 0.95L0 2.15Z" fill="url(#tail)"/>
<rect x="469.00" y="1150.90" width="4.2" height="4.2" fill="#12b0b6"/>
<path transform="translate(483.93 1153.00) rotate(-58.1) scale(25.52 1)" d="M0 -2.15L1 -0.95L1 0.95L0 2.15Z" fill="url(#tail)"/>
<rect x="481.83" y="1150.90" width="4.2" height="4.2" fill="#12b0b6"/>
<path transform="translate(496.76 1153.00) rotate(-69.5) scale(23.13 1)" d="M0 -2.15L1 -0.95L1 0.95L0 2.15Z" fill="url(#tail)"/>
<rect x="494.66" y="1150.90" width="4.2" height="4.2" fill="#12b0b6"/>
<path transform="translate(509.59 1153.00) rotate(-82.9) scale(21.84 1)" d="M0 -2.15L1 -0.95L1 0.95L0 2.15Z" fill="url(#tail)"/>
<rect x="507.49" y="1150.90" width="4.2" height="4.2" fill="#12b0b6"/>
<path transform="translate(522.42 1153.00) rotate(-97.1) scale(21.84 1)" d="M0 -2.15L1 -0.95L1 0.95L0 2.15Z" fill="url(#tail)"/>
<rect x="520.32" y="1150.90" width="4.2" height="4.2" fill="#12b0b6"/>
<path transform="translate(535.25 1153.00) rotate(-110.5) scale(23.13 1)" d="M0 -2.15L1 -0.95L1 0.95L0 2.15Z" fill="url(#tail)"/>
<rect x="533.15" y="1150.90" width="4.2" height="4.2" fill="#12b0b6"/>
<path transform="translate(548.08 1153.00) rotate(-121.9) scale(25.52 1)" d="M0 -2.15L1 -0.95L1 0.95L0 2.15Z" fill="url(#tail)"/>
<rect x="545.98" y="1150.90" width="4.2" height="4.2" fill="#12b0b6"/>
<path transform="translate(560.91 1153.00) rotate(-131.0) scale(28.73 1)" d="M0 -2.15L1 -0.95L1 0.95L0 2.15Z" fill="url(#tail)"/>
<rect x="558.81" y="1150.90" width="4.2" height="4.2" fill="#12b0b6"/>
<path transform="translate(471.10 1165.90) rotate(-55.2) scale(33.01 1)" d="M0 -2.15L1 -0.95L1 0.95L0 2.15Z" fill="url(#tail)"/>
<rect x="469.00" y="1163.80" width="4.2" height="4.2" fill="#12b0b6"/>
<path transform="translate(483.93 1165.90) rotate(-63.6) scale(30.25 1)" d="M0 -2.15L1 -0.95L1 0.95L0 2.15Z" fill="url(#tail)"/>
<rect x="481.83" y="1163.80" width="4.2" height="4.2" fill="#12b0b6"/>
<path transform="translate(496.76 1165.90) rotate(-73.4) scale(28.27 1)" d="M0 -2.15L1 -0.95L1 0.95L0 2.15Z" fill="url(#tail)"/>
<rect x="494.66" y="1163.80" width="4.2" height="4.2" fill="#12b0b6"/>
<path transform="translate(509.59 1165.90) rotate(-84.3) scale(27.22 1)" d="M0 -2.15L1 -0.95L1 0.95L0 2.15Z" fill="url(#tail)"/>
<rect x="507.49" y="1163.80" width="4.2" height="4.2" fill="#12b0b6"/>
<path transform="translate(522.42 1165.90) rotate(-95.7) scale(27.22 1)" d="M0 -2.15L1 -0.95L1 0.95L0 2.15Z" fill="url(#tail)"/>
<rect x="520.32" y="1163.80" width="4.2" height="4.2" fill="#12b0b6"/>
<path transform="translate(535.25 1165.90) rotate(-106.6) scale(28.27 1)" d="M0 -2.15L1 -0.95L1 0.95L0 2.15Z" fill="url(#tail)"/>
<rect x="533.15" y="1163.80" width="4.2" height="4.2" fill="#12b0b6"/>
<path transform="translate(548.08 1165.90) rotate(-116.4) scale(30.25 1)" d="M0 -2.15L1 -0.95L1 0.95L0 2.15Z" fill="url(#tail)"/>
<rect x="545.98" y="1163.80" width="4.2" height="4.2" fill="#12b0b6"/>
<path transform="translate(560.91 1165.90) rotate(-124.8) scale(33.01 1)" d="M0 -2.15L1 -0.95L1 0.95L0 2.15Z" fill="url(#tail)"/>
<rect x="558.81" y="1163.80" width="4.2" height="4.2" fill="#12b0b6"/>
</g>
<text class="mtm" x="580.14" y="1136.7" textLength="155.67" lengthAdjust="spacingAndGlyphs">MTM</text>
<rect x="1199" y="0" width="1" height="1200" fill="#555"/>
<rect x="0" y="1199" width="1200" height="1" fill="#4a4a4a"/>
</svg></body></html>
